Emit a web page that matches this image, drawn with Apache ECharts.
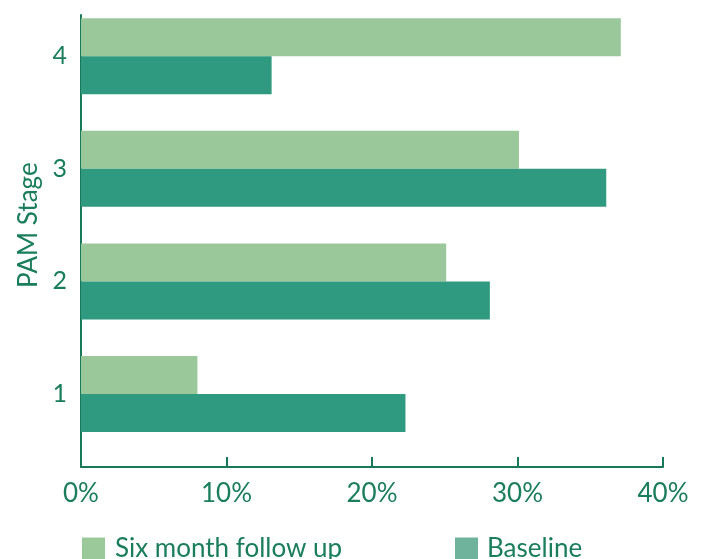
<!DOCTYPE html>
<html><head><meta charset="utf-8">
<script src="https://cdn.jsdelivr.net/npm/echarts@6/dist/echarts.min.js"></script>
<style>html,body{margin:0;padding:0;background:#fff}#c{width:702px;height:559px}</style>
</head><body><div id="c"></div>
<script>
const categories = ['1', '2', '3', '4'];
const sixMonth = [8.0, 25.1, 30.1, 37.1];
const baseline = [22.3, 28.1, 36.1, 13.1];
const xTicks = [0, 10, 20, 30, 40];

const txt = '#1a7d5c';
const axisCol = '#17795a';
const font = 'Lato';

const chart = echarts.init(document.getElementById('c'), null, {renderer: 'canvas'});
chart.setOption({
  animation: false,
  grid: [
    {left: 81, right: 39, top: -3.75, height: 454},
    {left: 81, right: 39, top: 15, bottom: 92}
  ],
  xAxis: [
    {gridIndex: 0, type: 'value', min: xTicks[0], max: xTicks[xTicks.length-1], interval: 10, show: false},
    {gridIndex: 1, type: 'value', min: xTicks[0], max: xTicks[xTicks.length-1], interval: 10,
     axisLine: {show: true, lineStyle: {color: axisCol, width: 2}},
     axisTick: {show: true, inside: true, length: 10, lineStyle: {color: axisCol, width: 2}},
     splitLine: {show: false},
     axisLabel: {color: txt, fontFamily: font, fontSize: 26, margin: 14, formatter: v => v + '%'}}
  ],
  yAxis: [
    {gridIndex: 0, type: 'category', data: categories,
     axisLine: {show: false}, axisTick: {show: false},
     axisLabel: {color: txt, fontFamily: font, fontSize: 25, margin: 14},
     name: 'PAM Stage', nameLocation: 'middle', nameGap: 38, nameRotate: 90,
     nameTextStyle: {color: txt, fontFamily: font, fontSize: 26}},
    {gridIndex: 1, type: 'value', min: 0, max: 1,
     axisLine: {show: true, lineStyle: {color: axisCol, width: 2}},
     axisTick: {show: false}, axisLabel: {show: false}, splitLine: {show: false}}
  ],
  legend: [
    {left: 82, top: 536, padding: 0, itemWidth: 23, itemHeight: 23, itemGap: 10, icon: 'rect',
     data: [{name: 'Six month follow up', itemStyle: {color: '#9cc99a'}}],
     textStyle: {color: txt, fontFamily: font, fontSize: 26, padding: [0, 0, 0, 5]}},
    {left: 455, top: 536, padding: 0, itemWidth: 23, itemHeight: 23, itemGap: 10, icon: 'rect',
     data: [{name: 'Baseline', itemStyle: {color: '#6fb39d'}}],
     textStyle: {color: txt, fontFamily: font, fontSize: 26, padding: [0, 0, 0, 4]}}
  ],
  series: [
    {name: 'Six month follow up', type: 'bar', xAxisIndex: 0, yAxisIndex: 0, data: sixMonth,
     barWidth: 38, barGap: '0%', barCategoryGap: '33%',
     itemStyle: {color: '#9bc89a'}},
    {name: 'Baseline', type: 'bar', xAxisIndex: 0, yAxisIndex: 0, data: baseline,
     barWidth: 38, barGap: '0%', barCategoryGap: '33%',
     itemStyle: {color: '#2f9a7f'}}
  ]
});
</script></body></html>
